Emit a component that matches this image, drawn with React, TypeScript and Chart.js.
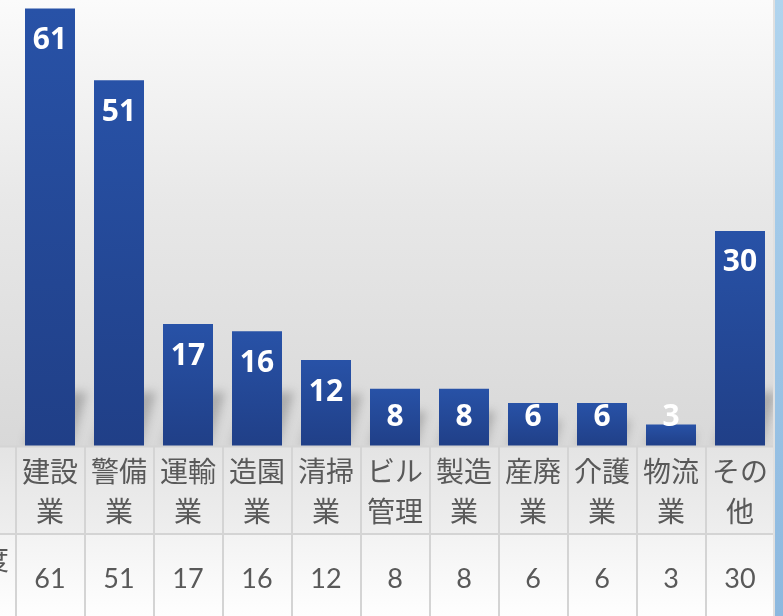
import React, { useEffect, useRef } from "react";
import { Chart, registerables } from "chart.js";

Chart.register(...registerables);

const categories: string[][] = [
  ["建設", "業"], ["警備", "業"], ["運輸", "業"], ["造園", "業"], ["清掃", "業"],
  ["ビル", "管理"], ["製造", "業"], ["産廃", "業"], ["介護", "業"], ["物流", "業"], ["その", "他"],
];
const values: number[] = [61, 51, 17, 16, 12, 8, 8, 6, 6, 3, 30];
const rowLabel = "度";

const W = 783;
const H = 616;
const BASE_Y = 446;

export default function App() {
  const ref = useRef<HTMLCanvasElement | null>(null);
  useEffect(() => {
    const canvas = ref.current!;
    const bgPlugin = {
      id: "bg",
      beforeDraw(chart: any) {
        const c = chart.ctx;
        c.save();
        const g = c.createLinearGradient(0, 0, 0, BASE_Y);
        g.addColorStop(0, "#fbfbfb");
        g.addColorStop(0.45, "#e8e8e8");
        g.addColorStop(1, "#d8d8d8");
        c.fillStyle = g;
        c.fillRect(0, 0, W, H);
        c.restore();
      },
      beforeDatasetsDraw(chart: any) {
        const c = chart.ctx;
        const meta = chart.getDatasetMeta(0);
        c.save();
        c.filter = "blur(5px)";
        c.fillStyle = "rgba(70,70,70,0.32)";
        meta.data.forEach((el: any) => {
          const L = el.x - el.width / 2;
          const R = el.x + el.width / 2;
          const B = el.base;
          const h = B - el.y;
          const hs = Math.min(h, 90) * 0.6;
          const s = hs * 0.3;
          c.beginPath();
          c.moveTo(L, B);
          c.lineTo(R - 4, B);
          c.lineTo(R - 4 + s, B - hs);
          c.lineTo(L + s, B - hs);
          c.closePath();
          c.fill();
        });
        c.restore();
      },
      afterDatasetsDraw(chart: any) {
        const c = chart.ctx;
        const meta = chart.getDatasetMeta(0);
        c.save();
        c.fillStyle = "#ffffff";
        c.font = "bold 30px 'Open Sans', sans-serif";
        c.textAlign = "center";
        c.textBaseline = "middle";
        meta.data.forEach((el: any, i: number) => {
          const y = Math.min(el.y + 32, 417);
          c.fillText(String(values[i]), el.x, y);
        });
        c.restore();
      },
      afterDraw(chart: any) {
        const c = chart.ctx;
        const xs = chart.scales.x;
        const left = chart.chartArea.left;
        const right = chart.chartArea.right;
        const colW = (right - left) / categories.length;
        c.save();
        const hTop = 447, hBot = 533, vTop = 535, vBot = 616;
        const hg = c.createLinearGradient(0, hTop, 0, hBot);
        hg.addColorStop(0, "#e4e4e4");
        hg.addColorStop(1, "#eeeeee");
        const vg = c.createLinearGradient(0, vTop, 0, vBot);
        vg.addColorStop(0, "#f3f3f3");
        vg.addColorStop(1, "#fefefe");
        c.fillStyle = hg;
        c.fillRect(0, hTop, left, hBot - hTop);
        c.fillStyle = vg;
        c.fillRect(0, vTop, left, vBot - vTop);
        for (let i = 0; i < categories.length; i++) {
          const x0 = left + i * colW;
          c.fillStyle = hg;
          c.fillRect(x0, hTop, colW, hBot - hTop);
          c.fillStyle = vg;
          c.fillRect(x0, vTop, colW, vBot - vTop);
        }
        c.strokeStyle = "#d4d4d4";
        c.lineWidth = 2;
        c.beginPath();
        c.moveTo(0, hTop - 0.5);
        c.lineTo(right, hTop - 0.5);
        c.moveTo(0, 534);
        c.lineTo(right, 534);
        for (let i = 0; i <= categories.length; i++) {
          const x0 = Math.round(left + i * colW);
          c.moveTo(x0, hTop - 1);
          c.lineTo(x0, vBot);
        }
        c.stroke();
        c.fillStyle = "#595959";
        c.textAlign = "center";
        c.textBaseline = "middle";
        c.font = "28px 'Noto Sans CJK JP', sans-serif";
        categories.forEach((lines, i) => {
          const x = xs.getPixelForValue(i);
          c.fillText(lines[0], x, 471);
          c.fillText(lines[1], x, 511);
        });
        c.font = "27px Lato, sans-serif";
        values.forEach((v, i) => {
          const x = xs.getPixelForValue(i);
          c.fillText(String(v), x, 579);
        });
        c.font = "28px 'Noto Sans CJK JP', sans-serif";
        c.textAlign = "right";
        c.fillText(rowLabel, 9, 559);
        c.fillStyle = "#e0e0e0";
        c.fillRect(773, 0, 2, H);
        const sg = c.createLinearGradient(0, 0, 0, H);
        sg.addColorStop(0, "#b0d4ee");
        sg.addColorStop(1, "#8cb8df");
        c.fillStyle = sg;
        c.fillRect(775, 0, W - 775, H);
        c.restore();
      },
    };

    const chart = new Chart(canvas, {
      type: "bar",
      data: {
        labels: categories.map((c) => c.join("")),
        datasets: [
          {
            data: values,
            backgroundColor: (ctx: any) => {
              const ch = ctx.chart;
              const ys = ch.scales && ch.scales.y;
              if (!ch.chartArea || !ys || ctx.raw === undefined) return "#2449a0";
              const top = ys.getPixelForValue(ctx.raw);
              const base = ys.getPixelForValue(0);
              const g = ch.ctx.createLinearGradient(0, top, 0, base);
              g.addColorStop(0, "#2852a7");
              g.addColorStop(1, "#203f87");
              return g;
            },
            borderWidth: 0,
            categoryPercentage: 1,
            barPercentage: 50 / 69,
          },
        ],
      },
      options: {
        responsive: false,
        animation: false,
        events: [],
        layout: { padding: { left: 15.5, right: W - 774.5, top: 0, bottom: H - BASE_Y } },
        plugins: { legend: { display: false }, tooltip: { enabled: false }, title: { display: false } },
        scales: {
          x: { display: false },
          y: { display: false, min: 0, max: 62.2 },
        },
      },
      plugins: [bgPlugin],
    });
    return () => chart.destroy();
  }, []);

  return (
    <div style={{ position: "absolute", left: 0, top: 0, width: W, height: H }}>
      <canvas ref={ref} width={W} height={H} style={{ display: "block", width: W, height: H }} />
    </div>
  );
}
